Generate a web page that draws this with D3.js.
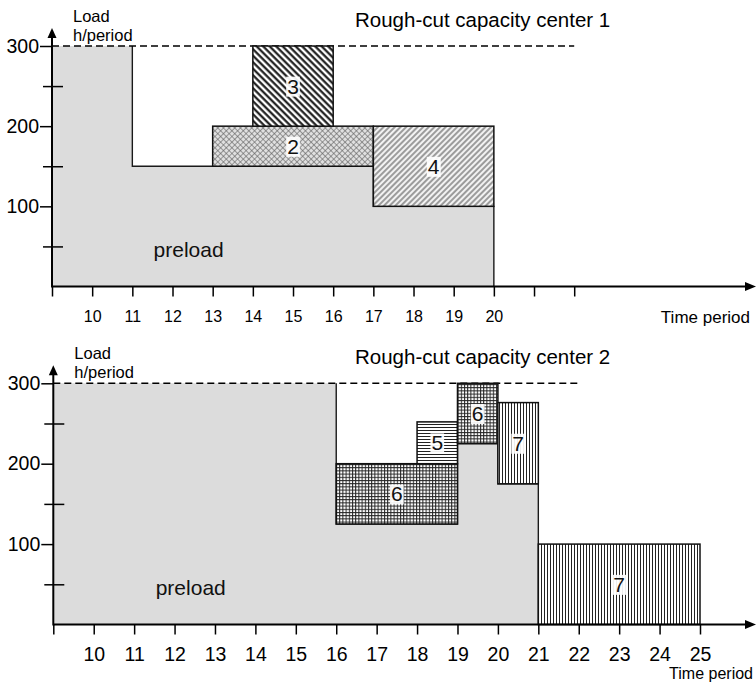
<!DOCTYPE html>
<html><head><meta charset="utf-8">
<script src="https://cdn.jsdelivr.net/npm/d3@7"></script>
<style>body{margin:0;background:#fff}svg{display:block;font-family:"Liberation Sans",Arial,Helvetica,sans-serif}</style>
</head><body>
<script>
// ---------- data ----------
const capacity = 300;
const yMajorTicks = [100, 200, 300];
const yMinorTicks = [50, 150, 250];
const yAxisTitle = ["Load", "h/period"];
const xAxisTitle = "Time period";
const preloadLabel = "preload";
const preloadLabelAt = [12.4, 45];

const title1 = "Rough-cut capacity center 1";
const periods1 = [9, 10, 11, 12, 13, 14, 15, 16, 17, 18, 19, 20, 21, 22];
const periodLabels1 = ["", "10", "11", "12", "13", "14", "15", "16", "17", "18", "19", "20", "", ""];
const preload1Start = [9, 11, 17];
const preload1Load = [300, 150, 100];
const preload1End = 20;
const orders1Id = ["2", "3", "4"];
const orders1Start = [13, 14, 17];
const orders1End = [17, 16, 20];
const orders1Low = [150, 200, 100];
const orders1High = [200, 300, 200];

const title2 = "Rough-cut capacity center 2";
const periods2 = [9, 10, 11, 12, 13, 14, 15, 16, 17, 18, 19, 20, 21, 22, 23, 24, 25];
const periodLabels2 = ["", "10", "11", "12", "13", "14", "15", "16", "17", "18", "19", "20", "21", "22", "23", "24", "25"];
const preload2Start = [9, 16, 19, 20];
const preload2Load = [300, 125, 225, 175];
const preload2End = 21;
const orders2Id = ["6", "5", "6", "7", "7"];
const orders2Start = [16, 18, 19, 20, 21];
const orders2End = [19, 19, 20, 21, 25];
const orders2Low = [125, 200, 225, 175, 0];
const orders2High = [200, 252, 300, 276, 100];

// ---------- drawing ----------
const svg = d3.select("body").append("svg").attr("width", 756).attr("height", 685);
const defs = svg.append("defs");

function basePattern(id, size, rot, bg) {
  const p = defs.append("pattern").attr("id", id).attr("patternUnits", "userSpaceOnUse")
    .attr("width", size).attr("height", size);
  if (rot) p.attr("patternTransform", `rotate(${rot})`);
  p.append("rect").attr("width", size).attr("height", size).attr("fill", bg);
  return p;
}
// order 2: fine dotted cross texture
{
  const p = basePattern("pat-2", 4, 45, "#e0e0e0");
  p.append("line").attr("x1", 0).attr("y1", 0).attr("x2", 0).attr("y2", 4).attr("stroke", "#606060").attr("stroke-width", 1.2);
  p.append("line").attr("x1", 0).attr("y1", 0).attr("x2", 4).attr("y2", 0).attr("stroke", "#606060").attr("stroke-width", 1.2);
}
// order 3: dense dark "\" hatching
{
  const p = basePattern("pat-3", 4.6, -45, "#fff");
  p.append("line").attr("x1", 1.5).attr("y1", 0).attr("x2", 1.5).attr("y2", 4.6).attr("stroke", "#111").attr("stroke-width", 2.1);
}
// order 4: light "/" hatching
{
  const p = basePattern("pat-4", 4, 45, "#f2f2f2");
  p.append("line").attr("x1", 1).attr("y1", 0).attr("x2", 1).attr("y2", 4).attr("stroke", "#6e6e6e").attr("stroke-width", 1.3);
}
// order 5: horizontal lines
{
  const p = basePattern("pat-5", 3, 0, "#fff");
  p.append("line").attr("x1", 0).attr("y1", 1.5).attr("x2", 3).attr("y2", 1.5).attr("stroke", "#222").attr("stroke-width", 1);
}
// order 6: fine grid
{
  const p = basePattern("pat-6", 3.2, 0, "#fff");
  p.append("line").attr("x1", 0).attr("y1", 0.5).attr("x2", 3.2).attr("y2", 0.5).attr("stroke", "#222").attr("stroke-width", 1);
  p.append("line").attr("x1", 0.5).attr("y1", 0).attr("x2", 0.5).attr("y2", 3.2).attr("stroke", "#222").attr("stroke-width", 1);
}
// order 7: vertical lines
{
  const p = basePattern("pat-7", 3, 0, "#fff");
  p.append("line").attr("x1", 1.5).attr("y1", 0).attr("x2", 1.5).attr("y2", 3).attr("stroke", "#222").attr("stroke-width", 1);
}

function drawPanel(p) {
  const g = svg.append("g");
  const x = d3.scaleLinear().domain([p.periods[0], p.periods[p.periods.length - 1]]).range(p.xRange);
  const y = d3.scaleLinear().domain([0, capacity]).range(p.yRange);
  const x0 = x(p.periods[0]), y0 = y(0);

  // preload
  const pts = p.preStart.map((t, i) => ({ t, v: p.preLoad[i] }))
    .concat([{ t: p.preEnd, v: p.preLoad[p.preLoad.length - 1] }]);
  g.append("path")
    .attr("d", d3.area().x(d => x(d.t)).y0(y0).y1(d => y(d.v)).curve(d3.curveStepAfter)(pts))
    .attr("fill", "#dcdcdc");
  const fb = pts.findIndex(d => d.v < capacity);
  const outline = [{ t: pts[fb].t, v: capacity }].concat(pts.slice(fb)).concat([{ t: p.preEnd, v: 0 }]);
  g.append("path")
    .attr("d", d3.line().x(d => x(d.t)).y(d => y(d.v)).curve(d3.curveStepAfter)(outline))
    .attr("fill", "none").attr("stroke", "#1a1a1a").attr("stroke-width", 1.4);

  // capacity line
  g.append("line")
    .attr("x1", x0).attr("x2", x(p.capEnd)).attr("y1", y(capacity)).attr("y2", y(capacity))
    .attr("stroke", "#000").attr("stroke-width", 1.6).attr("stroke-dasharray", "7,4");

  // order blocks
  const blocks = p.ids.map((id, i) => ({ id, s: p.start[i], e: p.end[i], lo: p.low[i], hi: p.high[i] }));
  g.selectAll("rect.block").data(blocks).join("rect").attr("class", "block")
    .attr("x", d => x(d.s)).attr("y", d => y(d.hi))
    .attr("width", d => x(d.e) - x(d.s)).attr("height", d => y(d.lo) - y(d.hi))
    .attr("fill", d => `url(#pat-${d.id})`)
    .attr("stroke", "#111").attr("stroke-width", 1.5);

  blocks.forEach(d => {
    const cx = x((d.s + d.e) / 2), cy = y((d.lo + d.hi) / 2);
    const bg = g.append("rect").attr("fill", "#fff").attr("fill-opacity", 0.92);
    const t = g.append("text").attr("x", cx).attr("y", cy).attr("dy", "0.36em")
      .attr("text-anchor", "middle").attr("font-size", 21).attr("fill", "#111").text(d.id);
    const bb = t.node().getBBox();
    bg.attr("x", bb.x - 1).attr("y", bb.y + 2).attr("width", bb.width + 2).attr("height", bb.height - 3);
  });

  // preload label
  g.append("text").attr("x", x(preloadLabelAt[0])).attr("y", y(preloadLabelAt[1])).attr("dy", "0.3em")
    .attr("text-anchor", "middle").attr("font-size", 21).attr("fill", "#111").text(preloadLabel);

  // x axis ticks
  const xa = g.append("g").attr("transform", `translate(0,${y0})`)
    .call(d3.axisBottom(x).tickValues(p.periods).tickSize(10).tickSizeOuter(0)
      .tickPadding(p.xTickPad).tickFormat((d, i) => p.labels[i]));
  xa.select(".domain").remove();
  xa.selectAll("line").attr("stroke", "#000").attr("stroke-width", 1.5);
  xa.selectAll("text").attr("font-size", p.xTickFont).attr("fill", "#000").attr("font-family", null);

  // y axis ticks
  const ya = g.append("g").attr("transform", `translate(${x0},0)`)
    .call(d3.axisLeft(y).tickValues(yMajorTicks).tickSize(12).tickPadding(1).tickSizeOuter(0));
  ya.select(".domain").remove();
  ya.selectAll("line").attr("stroke", "#000").attr("stroke-width", 1.5);
  ya.selectAll("text").attr("font-size", 19.5).attr("fill", "#000").attr("font-family", null);
  const ym1 = g.append("g").attr("transform", `translate(${x0},0)`)
    .call(d3.axisLeft(y).tickValues(yMinorTicks).tickSize(9).tickFormat(() => "").tickSizeOuter(0));
  const ym2 = g.append("g").attr("transform", `translate(${x0},0)`)
    .call(d3.axisRight(y).tickValues(yMinorTicks).tickSize(11).tickFormat(() => "").tickSizeOuter(0));
  [ym1, ym2].forEach(a => { a.select(".domain").remove(); a.selectAll("line").attr("stroke", "#000").attr("stroke-width", 1.5); });

  // axis lines with arrows
  const yTop = y(capacity) - 18;
  g.append("line").attr("x1", x0).attr("x2", x0).attr("y1", y0 + 1).attr("y2", yTop + 6)
    .attr("stroke", "#000").attr("stroke-width", 2);
  g.append("path").attr("d", `M${x0},${yTop} L${x0 - 4.5},${yTop + 10} L${x0 + 4.5},${yTop + 10} Z`).attr("fill", "#000");
  g.append("line").attr("x1", x0).attr("x2", 748).attr("y1", y0).attr("y2", y0)
    .attr("stroke", "#000").attr("stroke-width", 2);
  g.append("path").attr("d", `M756,${y0} L745,${y0 - 4.5} L745,${y0 + 4.5} Z`).attr("fill", "#000");

  // texts
  g.append("text").attr("x", x0 + 21).attr("y", y(capacity) - 24).attr("font-size", 16.5).attr("fill", "#000").text(yAxisTitle[0]);
  g.append("text").attr("x", x0 + 21).attr("y", y(capacity) - 5).attr("font-size", 16.5).attr("fill", "#000").text(yAxisTitle[1]);
  g.append("text").attr("x", 355).attr("y", y(capacity) - 19.5).attr("font-size", 20.5).attr("fill", "#000").text(p.title);
  g.append("text").attr("x", p.xTitlePos[0]).attr("y", p.xTitlePos[1]).attr("text-anchor", p.xTitleAnchor)
    .attr("font-size", p.xTitleFont).attr("fill", "#000").text(xAxisTitle);
}

drawPanel({
  title: title1, periods: periods1, labels: periodLabels1,
  xRange: [52, 574.2], yRange: [286.5, 46], capEnd: 22,
  preStart: preload1Start, preLoad: preload1Load, preEnd: preload1End,
  ids: orders1Id, start: orders1Start, end: orders1End, low: orders1Low, high: orders1High,
  xTickPad: 14.5, xTickFont: 16,
  xTitlePos: [750, 322.5], xTitleAnchor: "end", xTitleFont: 17
});
drawPanel({
  title: title2, periods: periods2, labels: periodLabels2,
  xRange: [53.3, 700], yRange: [624.5, 383.3], capEnd: 22,
  preStart: preload2Start, preLoad: preload2Load, preEnd: preload2End,
  ids: orders2Id, start: orders2Start, end: orders2End, low: orders2Low, high: orders2High,
  xTickPad: 13, xTickFont: 19.5,
  xTitlePos: [753, 679], xTitleAnchor: "end", xTitleFont: 16
});
</script>
</body></html>
